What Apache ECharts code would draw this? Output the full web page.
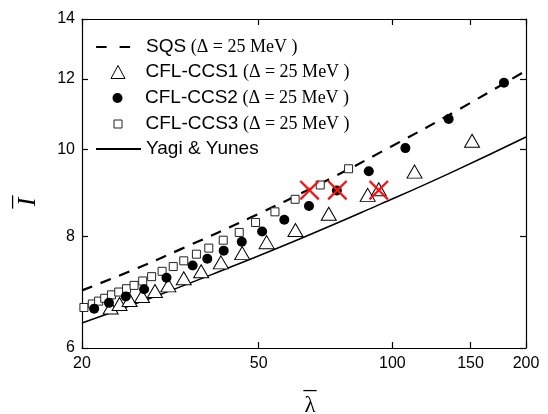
<!DOCTYPE html>
<html>
<head>
<meta charset="utf-8">
<script src="https://cdn.jsdelivr.net/npm/echarts@6/dist/echarts.min.js"></script>
<style>
  html, body { margin: 0; padding: 0; background: #fff; }
  #chart { width: 548px; height: 414px; }
</style>
</head>
<body>
<div id="chart"></div>
<script>
// Normalized moment of inertia vs. tidal deformability (log–log axes)
const lambdaTicks = [20, 50, 100, 150, 200];
const inertiaTicks = [6, 8, 10, 12, 14];

// SQS curve
const sqsLambda = [20, 25.6, 33.2, 47.8, 68.8, 99.0, 142.5, 200];
const sqsI      = [6.96, 7.31, 7.73, 8.39, 9.16, 10.07, 11.12, 12.26];

// CFL-CCS1 (open triangles)
const ccs1Lambda = [23.2, 24.3, 25.6, 27.3, 29.2, 31.3, 33.9, 37.1, 41.1, 45.9, 52.1, 60.5, 71.9, 88.0, 93.2, 112.2, 151.2];
const ccs1I      = [6.66, 6.72, 6.79, 6.86, 6.95, 7.05, 7.18, 7.31, 7.48, 7.66, 7.88, 8.13, 8.48, 8.90, 9.03, 9.45, 10.23];

// CFL-CCS2 (filled circles)
const ccs2Lambda = [21.3, 23.0, 25.1, 27.6, 31.0, 35.5, 38.3, 41.7, 45.8, 50.9, 57.1, 64.9, 75.0, 88.5, 107.0, 133.9, 178.4];
const ccs2I      = [6.64, 6.74, 6.85, 6.98, 7.19, 7.42, 7.55, 7.71, 7.89, 8.10, 8.35, 8.65, 9.00, 9.46, 10.04, 10.82, 11.88];

// CFL-CCS3 (open squares)
const ccs3Lambda = [20.2, 21.1, 21.8, 22.5, 23.3, 24.2, 25.2, 26.2, 27.4, 28.7, 30.3, 32.1, 33.9, 36.2, 38.6, 41.6, 45.2, 49.2, 54.4, 60.4, 68.8, 79.7];
const ccs3I      = [6.66, 6.72, 6.77, 6.82, 6.88, 6.93, 6.99, 7.05, 7.13, 7.21, 7.31, 7.40, 7.51, 7.64, 7.76, 7.92, 8.08, 8.29, 8.52, 8.80, 9.13, 9.52];

// Yagi & Yunes fit
const yyLambda = [20, 28.5, 40.9, 62.0, 94.0, 135.2, 200];
const yyI      = [6.40, 6.82, 7.31, 7.95, 8.69, 9.42, 10.33];

// Highlighted configurations (red crosses)
const crossLambda = [65.1, 75.2, 93.2];
const crossI      = [9.01, 9.01, 9.01];

const seriesNames = [
  'SQS (Δ = 25 MeV )',
  'CFL-CCS1 (Δ = 25 MeV )',
  'CFL-CCS2 (Δ = 25 MeV )',
  'CFL-CCS3 (Δ = 25 MeV )',
  'Yagi & Yunes'
];

const zip = (xs, ys) => xs.map((x, i) => [x, ys[i]]);

const crossPath = 'path://M0,1.6 L1.6,0 L10,8.4 L18.4,0 L20,1.6 L11.6,10 L20,18.4 L18.4,20 L10,11.6 L1.6,20 L0,18.4 L8.4,10 Z';

const axisColor = '#000';
const tickFont = { color: '#000', fontSize: 16, fontFamily: 'Liberation Sans' };

function baseAxis(extra) {
  return Object.assign({
    type: 'log',
    logBase: 10,
    axisLine: { show: true, onZero: false, lineStyle: { color: axisColor, width: 1.2 } },
    splitLine: { show: false },
    minorTick: { show: false },
    minorSplitLine: { show: false }
  }, extra);
}

// Legend: one component per row so each marker keeps its own size;
// all texts start at the same x.
const legendIconX = 117.5;
const legendTextX = 145;
const legendRows = [48.5, 73.5, 99.5, 125.5, 150.5];
const legendIcons = [
  { w: 45, h: 14, line: true },
  { w: 14, h: 13 },
  { w: 10, h: 10 },
  { w: 8, h: 8 },
  { w: 45, h: 14, line: true }
];
const legends = seriesNames.map((n, i) => {
  const ic = legendIcons[i];
  const left = ic.line ? 95 : legendIconX - ic.w / 2;
  const gap = legendTextX - (left + ic.w + 5);
  const leg = {
    data: [n],
    left: left,
    top: legendRows[i] - 11,
    padding: 0,
    itemWidth: ic.w,
    itemHeight: ic.h,
    itemGap: 0,
    selectedMode: false,
    symbolKeepAspect: false,
    formatter: function (name) {
      const k = name.indexOf(' (');
      const lead = gap > 0.5 ? '{g| }' : '';
      if (k < 0) return lead + '{s|' + name + '}';
      return lead + '{s|' + name.slice(0, k) + '}{r| ' + name.slice(k + 1) + '}';
    },
    textStyle: {
      color: '#000',
      rich: {
        g: { width: Math.max(gap, 0), lineHeight: 22 },
        s: { fontFamily: 'Liberation Sans', fontSize: 19, color: '#000', lineHeight: 22 },
        r: { fontFamily: 'Liberation Serif', fontSize: 18, color: '#000', lineHeight: 22 }
      }
    }
  };
  leg.itemStyle = ic.line ? { opacity: 0 } : { borderWidth: 1, opacity: 1 };
  return leg;
});
legends[0].lineStyle = { type: [10.5, 13], width: 2.2 };

const chart = echarts.init(document.getElementById('chart'), null, { renderer: 'canvas' });
chart.setOption({
  animation: false,
  backgroundColor: '#fff',
  grid: { left: 82, right: 22, top: 19, bottom: 66, outerBoundsMode: 'none', containLabel: false },
  legend: legends,
  xAxis: [
    baseAxis({
      position: 'bottom', min: 20, max: 200,
      axisTick: { show: true, inside: true, length: 6, customValues: lambdaTicks, lineStyle: { color: axisColor, width: 1.2 } },
      axisLabel: Object.assign({ customValues: lambdaTicks, margin: 8 }, tickFont),
      name: '{bar|–}\n{sym|λ}',
      nameLocation: 'middle',
      nameGap: 36,
      nameTextStyle: {
        padding: [0, 0, 0, 12],
        rich: {
          bar: { fontFamily: 'Liberation Serif', fontSize: 26, lineHeight: 10, color: '#000' },
          sym: { fontFamily: 'Liberation Serif', fontSize: 23, lineHeight: 22, color: '#000' }
        }
      }
    }),
    baseAxis({
      position: 'top', min: 20, max: 200,
      axisTick: { show: true, inside: true, length: 6, customValues: lambdaTicks, lineStyle: { color: axisColor, width: 1.2 } },
      axisLabel: { show: false, customValues: lambdaTicks }
    })
  ],
  yAxis: [
    baseAxis({
      position: 'left', min: 6, max: 14,
      axisTick: { show: true, inside: true, length: 6, customValues: inertiaTicks, lineStyle: { color: axisColor, width: 1.2 } },
      axisLabel: Object.assign({ customValues: inertiaTicks, margin: 7 }, tickFont),
      name: '{bar|–}\n{sym|I}',
      nameLocation: 'middle',
      nameRotate: 90,
      nameGap: 42,
      nameTextStyle: {
        padding: [0, 37, 0, 0],
        rich: {
          bar: { fontFamily: 'Liberation Serif', fontSize: 26, lineHeight: 8, color: '#000' },
          sym: { fontFamily: 'Liberation Serif', fontStyle: 'italic', fontSize: 26, lineHeight: 24, color: '#000' }
        }
      }
    }),
    baseAxis({
      position: 'right', min: 6, max: 14,
      axisTick: { show: true, inside: true, length: 6, customValues: inertiaTicks, lineStyle: { color: axisColor, width: 1.2 } },
      axisLabel: { show: false, customValues: inertiaTicks }
    })
  ],
  series: [
    {
      name: seriesNames[0], type: 'line', xAxisIndex: 0, yAxisIndex: 0,
      data: zip(sqsLambda, sqsI), smooth: true, symbol: 'none', showSymbol: false,
      lineStyle: { color: '#000', width: 2.2, type: [11, 9] }, itemStyle: { color: '#000' }, z: 2
    },
    {
      name: seriesNames[4], type: 'line', xAxisIndex: 0, yAxisIndex: 0,
      data: zip(yyLambda, yyI), smooth: true, symbol: 'none', showSymbol: false,
      lineStyle: { color: '#000', width: 1.5 }, itemStyle: { color: '#000' }, z: 2
    },
    {
      name: seriesNames[3], type: 'scatter', data: zip(ccs3Lambda, ccs3I),
      symbol: 'rect', symbolSize: 8,
      itemStyle: { color: '#fff', borderColor: '#222', borderWidth: 1, opacity: 1 }, z: 3
    },
    {
      name: seriesNames[1], type: 'scatter', data: zip(ccs1Lambda, ccs1I),
      symbol: 'triangle', symbolSize: [15, 13],
      itemStyle: { color: '#fff', borderColor: '#000', borderWidth: 1, opacity: 1 }, z: 4
    },
    {
      name: seriesNames[2], type: 'scatter', data: zip(ccs2Lambda, ccs2I),
      symbol: 'circle', symbolSize: 10,
      itemStyle: { color: '#000', opacity: 1 }, z: 5
    },
    {
      name: 'highlight', type: 'scatter', data: zip(crossLambda, crossI),
      symbol: crossPath, symbolSize: 20,
      itemStyle: { color: '#ff1010', opacity: 1 }, z: 6
    }
  ]
});
</script>
</body>
</html>
